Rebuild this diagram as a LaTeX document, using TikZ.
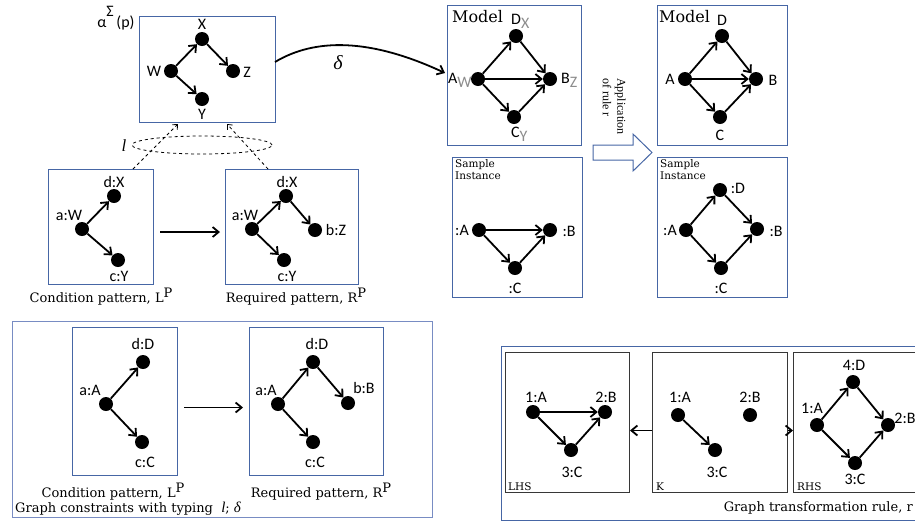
\documentclass[tikz,border=0pt]{standalone}
\usepackage{fontspec}
\usetikzlibrary{arrows.meta,shapes.geometric}
\newfontfamily\lblfont{Carlito}
\newfontfamily\capfont{DejaVu Serif}
\newfontfamily\appfont{Liberation Serif}
\definecolor{boxblue}{RGB}{70,102,165}
\definecolor{lightblue}{RGB}{120,140,195}
\definecolor{darkframe}{RGB}{55,55,55}
\definecolor{typegray}{RGB}{140,140,140}
\tikzset{
  dot/.style={circle, fill=black, inner sep=0pt, minimum size=14pt},
  bluebox/.style={draw=boxblue, line width=1pt, inner sep=0pt, anchor=north west},
  rulebox/.style={draw=darkframe, line width=1pt, inner sep=0pt, anchor=north west},
  lbl/.style={font=\lblfont\fontsize{16}{16}\selectfont, inner sep=0pt},
  captxt/.style={font=\capfont\fontsize{13}{14}\selectfont, inner sep=0pt},
  smalltxt/.style={font=\capfont\fontsize{10.5}{12.5}\selectfont, inner sep=0pt, align=left, anchor=north west},
  modeltxt/.style={font=\capfont\fontsize{16}{18}\selectfont, inner sep=0pt, anchor=west},
  symtxt/.style={font=\appfont\itshape\fontsize{#1}{#1}\selectfont, inner sep=0pt},
  edge/.style={-{Straight Barb[length=6pt,width=10pt]}, line width=1.8pt},
  dashedge/.style={dashed, line width=0.8pt, -{Straight Barb[length=4pt,width=7pt]}},
}
\newcommand{\typed}[2]{#1\raisebox{-0.5ex}{\textcolor{typegray}{#2}}}
\newcommand{\supP}{\raisebox{0.75ex}{P}}
\begin{document}
\begin{tikzpicture}[x=1pt,y=-1pt]
\clip (0,0) rectangle (915,523);

% ---------- type graph Sigma(p) ----------
\node[bluebox, minimum width=136pt, minimum height=106pt] (sbox) at (139,16) {};
\node[lbl] (slab) at (116,18) {α\raisebox{1.4ex}{Σ}\,(p)};
\node[dot] (sX) at (202,39) {};
\node[dot] (sW) at (171,71) {};
\node[dot] (sZ) at (233,71) {};
\node[dot] (sY) at (202,99) {};
\node[lbl] (lX) at (202,24) {X};
\node[lbl] (lW) at (154,71) {W};
\node[lbl] (lZ) at (247,72) {Z};
\node[lbl] (lY) at (202,114) {Y};
\draw[edge] (sW) -- (sX);
\draw[edge] (sX) -- (sZ);
\draw[edge] (sW) -- (sY);

% typing morphism l
\node[draw, dashed, line width=0.8pt, ellipse, minimum width=140pt, minimum height=18pt, inner sep=0pt] (lell) at (202,145) {};
\node[symtxt=17] (lsym) at (124,146) {l};

% ---------- condition / required patterns (top) ----------
\node[bluebox, minimum width=105pt, minimum height=115pt] (c1box) at (48,169) {};
\node[dot] (c1d) at (114,196) {};
\node[dot] (c1a) at (82,229) {};
\node[dot] (c1c) at (118,260) {};
\node[lbl] at (114,182) {d:X};
\node[lbl] at (69,215) {a:W};
\node[lbl] at (119,276) {c:Y};
\draw[edge] (c1a) -- (c1d);
\draw[edge] (c1a) -- (c1c);

\node[bluebox, minimum width=133pt, minimum height=115pt] (r1box) at (225,169) {};
\node[dot] (r1d) at (286,196) {};
\node[dot] (r1a) at (252,229) {};
\node[dot] (r1b) at (315,230) {};
\node[dot] (r1c) at (284,260) {};
\node[lbl] at (287,182) {d:X};
\node[lbl] at (245,215) {a:W};
\node[lbl] at (336,230) {b:Z};
\node[lbl] at (287,276) {c:Y};
\draw[edge] (r1a) -- (r1d);
\draw[edge] (r1d) -- (r1b);
\draw[edge] (r1a) -- (r1c);

\draw[edge] ([xshift=6pt,yshift=-5pt]c1box.east) -- ([xshift=-5pt,yshift=-5pt]r1box.west);

\node[captxt] (c1cap) at (101,297) {Condition pattern, L\supP};
\node[captxt] (r1cap) at (296,297) {Required pattern, R\supP};

% dashed typing arrows
\coordinate (dl0) at (133,169);
\coordinate (dl1) at (178,124);
\coordinate (dr0) at (268,169);
\coordinate (dr1) at (227,124);
\draw[dashedge] (dl0) -- (dl1);
\draw[dashedge] (dr0) -- (dr1);

% ---------- delta ----------
\node[bluebox, minimum width=134pt, minimum height=140pt] (m1box) at (447,5) {};
\coordinate (dstart) at (275,62);
\coordinate (dend) at (445,73);
\draw[edge] (dstart) .. controls (315,38) and (370,38) .. (dend);
\node[symtxt=20] (dsym) at (338,63) {δ};

% ---------- model before ----------
\node[modeltxt] (m1t) at (452,17) {Model};
\node[dot] (m1A) at (478,79) {};
\node[dot] (m1D) at (516,36) {};
\node[dot] (m1B) at (550,79) {};
\node[dot] (m1C) at (514,117) {};
\node[lbl, anchor=west] at (448,80) {\typed{A}{W}};
\node[lbl, anchor=west] at (511,21) {\typed{D}{X}};
\node[lbl, anchor=west] at (561,80) {\typed{B}{Z}};
\node[lbl, anchor=west] at (511,134) {\typed{C}{Y}};
\draw[edge] (m1A) -- (m1D);
\draw[edge] (m1D) -- (m1B);
\draw[edge] (m1A) -- (m1B);
\draw[edge] (m1A) -- (m1C);
\draw[edge] (m1C) -- (m1B);

\node[bluebox, minimum width=130pt, minimum height=140pt] (s1box) at (452,157) {};
\node[smalltxt] (s1t) at (455,159) {Sample\\Instance};
\node[dot] (s1A) at (479,230) {};
\node[dot] (s1B) at (550,230) {};
\node[dot] (s1C) at (515,268) {};
\node[lbl] at (462,230) {:A};
\node[lbl] at (569,231) {:B};
\node[lbl] at (515,288) {:C};
\draw[edge] (s1A) -- (s1B);
\draw[edge] (s1A) -- (s1C);
\draw[edge] (s1C) -- (s1B);

% ---------- rule application ----------
\draw[draw=boxblue, line width=1pt, fill=white] (593,145) -- (633,145) -- (633,134) -- (652,152.5)
  -- (633,171) -- (633,160) -- (593,160) -- cycle;
\node[font=\appfont\fontsize{12}{14.5}\selectfont, inner sep=0pt, align=left, rotate=-90, anchor=north west]
  (apptxt) at (626,78) {Application\\of rule r};

% ---------- model after ----------
\node[bluebox, minimum width=130pt, minimum height=140pt] (m2box) at (657,5) {};
\node[modeltxt] (m2t) at (659,17) {Model};
\node[dot] (m2A) at (685,79) {};
\node[dot] (m2D) at (722,36) {};
\node[dot] (m2B) at (756,79) {};
\node[dot] (m2C) at (720,117) {};
\node[lbl] at (670,79) {A};
\node[lbl] at (722,20) {D};
\node[lbl] at (773,80) {B};
\node[lbl] at (720,135) {C};
\draw[edge] (m2A) -- (m2D);
\draw[edge] (m2D) -- (m2B);
\draw[edge] (m2A) -- (m2B);
\draw[edge] (m2A) -- (m2C);
\draw[edge] (m2C) -- (m2B);

\node[bluebox, minimum width=130pt, minimum height=140pt] (s2box) at (657,157) {};
\node[smalltxt] (s2t) at (660,159) {Sample\\Instance};
\node[dot] (s2A) at (686,230) {};
\node[dot] (s2D) at (720,190) {};
\node[dot] (s2B) at (757,229) {};
\node[dot] (s2C) at (721,268) {};
\node[lbl] at (738,188) {:D};
\node[lbl] at (670,230) {:A};
\node[lbl] at (776,231) {:B};
\node[lbl] at (721,288) {:C};
\draw[edge] (s2A) -- (s2D);
\draw[edge] (s2D) -- (s2B);
\draw[edge] (s2A) -- (s2C);
\draw[edge] (s2C) -- (s2B);

% ---------- graph constraints with typing ----------
\node[draw=lightblue, line width=1pt, inner sep=0pt, anchor=north west, minimum width=420pt, minimum height=196pt] (gcbox) at (12,321) {};
\node[bluebox, minimum width=105pt, minimum height=148pt] (c2box) at (72,327) {};
\node[dot] (c2d) at (143,362) {};
\node[dot] (c2a) at (106,404) {};
\node[dot] (c2c) at (142,442) {};
\node[lbl] at (143,344) {d:D};
\node[lbl] at (90,390) {a:A};
\node[lbl] at (145,462) {c:C};
\draw[edge] (c2a) -- (c2d);
\draw[edge] (c2a) -- (c2c);

\node[bluebox, minimum width=134pt, minimum height=148pt] (r2box) at (249,327) {};
\node[dot] (r2d) at (313,362) {};
\node[dot] (r2a) at (278,404) {};
\node[dot] (r2b) at (348,403) {};
\node[dot] (r2c) at (313,442) {};
\node[lbl] at (317,344) {d:D};
\node[lbl] at (266,390) {a:A};
\node[lbl] at (364,388) {b:B};
\node[lbl] at (315,462) {c:C};
\draw[edge] (r2a) -- (r2d);
\draw[edge] (r2d) -- (r2b);
\draw[edge] (r2a) -- (r2c);

\draw[edge] ([xshift=6pt,yshift=-6pt]c2box.east) -- ([xshift=-6pt,yshift=-6pt]r2box.west);

\node[captxt] (c2cap) at (113,492) {Condition pattern, L\supP};
\node[captxt] (r2cap) at (321,492) {Required pattern, R\supP};
\node[captxt, anchor=west] (gccap) at (15,509) {Graph constraints with typing \ {\appfont\itshape\fontsize{15}{15}\selectfont l}; {\appfont\itshape\fontsize{15}{15}\selectfont δ}};

% ---------- graph transformation rule ----------
\node[draw=boxblue, line width=1pt, inner sep=0pt, anchor=north west, minimum width=430pt, minimum height=174pt] (gtbox) at (501,346) {};
\node[rulebox, minimum width=124pt, minimum height=140pt] (lhs) at (505,352) {};
\node[rulebox, minimum width=135pt, minimum height=140pt] (kbox) at (652,352) {};
\node[rulebox, minimum width=140pt, minimum height=140pt] (rhs) at (793,352) {};

\node[dot] (L1) at (533,412) {};
\node[dot] (L2) at (605,412) {};
\node[dot] (L3) at (571,450) {};
\node[lbl] at (536,397) {1:A};
\node[lbl] at (606,397) {2:B};
\node[lbl] at (572,472) {3:C};
\draw[edge] (L1) -- (L2);
\draw[edge] (L1) -- (L3);
\draw[edge] (L3) -- (L2);
\node[smalltxt, anchor=west] (lhst) at (508,487) {LHS};

\node[dot] (K1) at (678,415) {};
\node[dot] (K2) at (750,415) {};
\node[dot] (K3) at (715,450) {};
\node[lbl] at (680,397) {1:A};
\node[lbl] at (750,397) {2:B};
\node[lbl] at (717,472) {3:C};
\draw[edge] (K1) -- (K3);
\node[smalltxt, anchor=west] (kt) at (656,487) {K};

\node[dot] (R1) at (817,425) {};
\node[dot] (R4) at (853,382) {};
\node[dot] (R2) at (888,425) {};
\node[dot] (R3) at (855,463) {};
\node[lbl] at (812,408) {1:A};
\node[lbl] at (854,365) {4:D};
\node[lbl] at (905,418) {2:B};
\node[lbl] at (855,479) {3:C};
\draw[edge] (R1) -- (R4);
\draw[edge] (R4) -- (R2);
\draw[edge] (R1) -- (R3);
\draw[edge] (R3) -- (R2);
\node[smalltxt, anchor=west] (rhst) at (797,487) {RHS};

\draw[edge] ([yshift=-8pt]kbox.west) -- ([yshift=-8pt]lhs.east);
\draw[edge] ([yshift=-8pt]kbox.east) -- ([yshift=-8pt]rhs.west);

\node[captxt, anchor=east] (gtcap) at (913,508) {Graph transformation rule, r};
\end{tikzpicture}
\end{document}
